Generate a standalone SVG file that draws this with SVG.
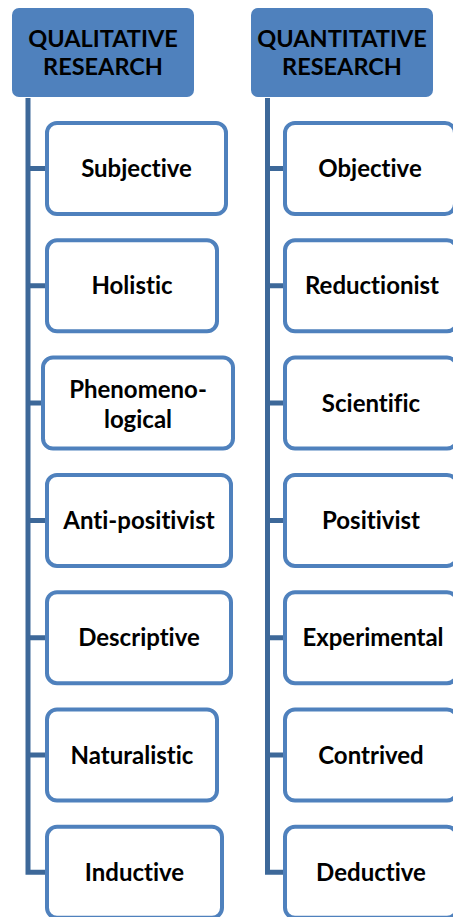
<svg xmlns="http://www.w3.org/2000/svg" width="453" height="917" viewBox="0 0 453 917">
<style>
.hdr{fill:#4F81BD;}
.box{fill:#FFFFFF;stroke:#4F81BD;stroke-width:4;}
.con{fill:none;stroke:#3D6899;stroke-width:5;stroke-linejoin:miter;}
text{font-family:Lato,"Liberation Sans",sans-serif;font-weight:bold;font-size:24px;fill:#000;text-anchor:middle;font-variant-ligatures:none;}
text.h{font-size:23.5px;}
</style>
<rect width="453" height="917" fill="#FFFFFF"/>
<g id="connectors">
<path class="con" d="M28 98 V872.3 H46"/>
<path class="con" d="M28 168.5 H46 M28 285.8 H46 M28 403.1 H42 M28 520.4 H46 M28 637.7 H46 M28 755 H46"/>
<path class="con" d="M267.5 98 V872.3 H284"/>
<path class="con" d="M267.5 168.5 H284 M267.5 285.8 H284 M267.5 403.1 H284 M267.5 520.4 H284 M267.5 637.7 H284 M267.5 755 H284"/>
</g>
<g id="qual-header"><rect class="hdr" x="12" y="8" width="182" height="89" rx="7"/><text class="h" x="103" y="47">QUALITATIVE</text><text class="h" x="103" y="75">RESEARCH</text></g>
<g id="quant-header"><rect class="hdr" x="251" y="8" width="182" height="89" rx="7"/><text class="h" x="342" y="47">QUANTITATIVE</text><text class="h" x="342" y="75">RESEARCH</text></g>
<g id="subjective"><rect class="box" x="47" y="123" width="179" height="91" rx="10"/><text x="136.5" y="177">Subjective</text></g>
<g id="holistic"><rect class="box" x="47" y="240.3" width="170" height="91" rx="10"/><text x="132" y="294.3">Holistic</text></g>
<g id="phenomenological"><rect class="box" x="43" y="357.6" width="190" height="91" rx="10"/><text x="138" y="398">Phenomeno-</text><text x="138" y="428">logical</text></g>
<g id="anti-positivist"><rect class="box" x="47" y="474.9" width="184" height="91" rx="10"/><text x="139" y="528.9">Anti-positivist</text></g>
<g id="descriptive"><rect class="box" x="47" y="592.2" width="184" height="91" rx="10"/><text x="139" y="646.2">Descriptive</text></g>
<g id="naturalistic"><rect class="box" x="47" y="709.5" width="170" height="91" rx="10"/><text x="132" y="763.5">Naturalistic</text></g>
<g id="inductive"><rect class="box" x="47" y="826.8" width="175" height="91" rx="10"/><text x="134.5" y="880.8">Inductive</text></g>
<g id="objective"><rect class="box" x="285" y="123" width="170" height="91" rx="10"/><text x="370" y="177">Objective</text></g>
<g id="reductionist"><rect class="box" x="285" y="240.3" width="172" height="91" rx="10"/><text x="372" y="294.3">Reductionist</text></g>
<g id="scientific"><rect class="box" x="285" y="357.6" width="172" height="91" rx="10"/><text x="371" y="411.6">Scientific</text></g>
<g id="positivist"><rect class="box" x="285" y="474.9" width="172" height="91" rx="10"/><text x="371" y="528.9">Positivist</text></g>
<g id="experimental"><rect class="box" x="285" y="592.2" width="172" height="91" rx="10"/><text x="373" y="646.2">Experimental</text></g>
<g id="contrived"><rect class="box" x="285" y="709.5" width="172" height="91" rx="10"/><text x="371" y="763.5">Contrived</text></g>
<g id="deductive"><rect class="box" x="285" y="826.8" width="172" height="91" rx="10"/><text x="371" y="880.8">Deductive</text></g>
</svg>
